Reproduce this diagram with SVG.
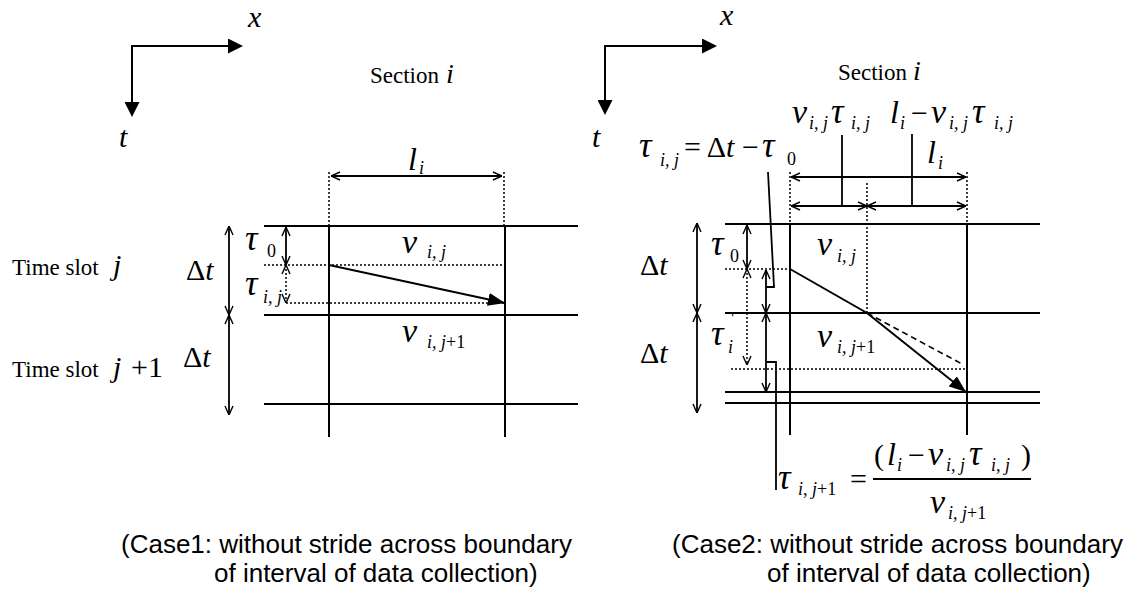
<svg xmlns="http://www.w3.org/2000/svg" width="1142" height="590" viewBox="0 0 1142 590">
<style>
.g{stroke:#000;stroke-width:2;fill:none}
.a{stroke:#000;stroke-width:1.8;fill:none}
.d{stroke:#000;stroke-width:1.5;fill:none;stroke-dasharray:2 2}
.da{stroke:#000;stroke-width:1.6;fill:none;stroke-dasharray:6 4}
text{font-family:"Liberation Serif","Times New Roman",serif;fill:#000}
.m{font-style:italic;font-size:30px}
.v{font-style:italic;font-size:34px}
.tau{font-style:italic;font-size:35px}
.s{font-style:italic;font-size:18px}
.u{font-style:normal}
.r{font-size:23px}
.cap{font-family:"Liberation Sans",Arial,sans-serif;font-size:26px}
</style>
<defs>
<marker id="o" viewBox="0 0 10 10" refX="10" refY="5" markerWidth="10" markerHeight="10" markerUnits="userSpaceOnUse" orient="auto-start-reverse">
<path d="M1,1 L10,5 L1,9" fill="none" stroke="#000" stroke-width="1.4"/>
</marker>
<marker id="f" viewBox="0 0 15 15" refX="15" refY="7.5" markerWidth="15" markerHeight="15" markerUnits="userSpaceOnUse" orient="auto">
<path d="M0,0 L15,7.5 L0,15 z" fill="#000"/>
</marker>
<marker id="h" viewBox="0 0 17 13" refX="17" refY="6.5" markerWidth="17" markerHeight="13" markerUnits="userSpaceOnUse" orient="auto">
<path d="M0,0 L17,6.5 L0,13 z" fill="#000"/>
</marker>
</defs>

<g id="case1">
<g id="axes1">
<path class="g" d="M132,103 L132,46 L229,46"/>
<line x1="132" y1="46" x2="243" y2="46" stroke="none" marker-end="url(#f)"/>
<line x1="132" y1="46" x2="132" y2="117" stroke="none" marker-end="url(#f)"/>
<text class="m" x="248" y="27">x</text>
<text class="m" x="119" y="147">t</text>
</g>
<g id="section1">
<text class="r" x="370" y="83">Section</text>
<text class="m" x="446" y="83" style="font-size:28px">i</text>
<text class="m" x="408" y="170" style="font-size:32px">l</text><text class="s" x="419" y="174">i</text>
</g>
<g id="grid1">
<line class="g" x1="264" y1="226" x2="578" y2="226"/>
<line class="g" x1="264" y1="315" x2="578" y2="315"/>
<line class="g" x1="264" y1="404" x2="578" y2="404"/>
<line class="g" x1="329" y1="226" x2="329" y2="437"/>
<line class="g" x1="505" y1="226" x2="505" y2="437"/>
</g>
<g id="labels1">
<text class="r" x="12" y="275">Time slot</text>
<text class="m" x="113" y="275">j</text>
<text class="r" x="12" y="377">Time slot</text>
<text class="m" x="113" y="377">j</text>
<text class="m u" x="131" y="377">+1</text>
<text class="m u" x="186" y="280">Δ<tspan style="font-style:italic">t</tspan></text>
<text class="m u" x="183" y="367">Δ<tspan style="font-style:italic">t</tspan></text>
<text class="tau" x="245" y="250">τ</text><text class="s u" x="267" y="257">0</text>
<text class="tau" x="245" y="295">τ</text><text class="s" x="263" y="303">i, j</text>
<text class="v" x="402" y="253">v</text><text class="s" x="427" y="258">i, j</text>
<text class="v" x="402" y="342">v</text><text class="s" x="427" y="348">i, j<tspan class="u">+1</tspan></text>
</g>
</g>

<g id="case2">
<g id="axes2">
<path class="g" d="M605,101 L605,46 L703,46"/>
<line x1="605" y1="46" x2="717" y2="46" stroke="none" marker-end="url(#f)"/>
<line x1="605" y1="46" x2="605" y2="115" stroke="none" marker-end="url(#f)"/>
<text class="m" x="720" y="25">x</text>
<text class="m" x="592" y="147">t</text>
</g>
<g id="section2">
<text class="r" x="838" y="80">Section</text>
<text class="m" x="913" y="80" style="font-size:28px">i</text>
<text class="v" x="792" y="123">v</text><text class="s" x="809" y="129">i, j</text>
<text class="tau" x="831" y="123">τ</text><text class="s" x="851" y="129">i, j</text>
<text class="m" x="890" y="123" style="font-size:32px">l</text><text class="s" x="900" y="129">i</text>
<text class="m u" x="911" y="123">−</text>
<text class="v" x="931" y="123">v</text><text class="s" x="949" y="129">i, j</text>
<text class="tau" x="972" y="123">τ</text><text class="s" x="994" y="129">i, j</text>
<text class="m" x="927" y="163" style="font-size:32px">l</text><text class="s" x="938" y="169">i</text>
</g>
<g id="tauij">
<text class="tau" x="639" y="157">τ</text><text class="s" x="660" y="166">i, j</text>
<text class="m u" x="684" y="157">= Δ<tspan style="font-style:italic">t</tspan> −</text>
<text class="tau" x="762" y="157">τ</text><text class="s u" x="787" y="165">0</text>
</g>
<g id="grid2">
<line class="g" x1="725" y1="224" x2="1040" y2="224"/>
<line class="g" x1="725" y1="313" x2="1040" y2="313"/>
<line class="g" x1="725" y1="392" x2="1040" y2="392"/>
<line class="g" x1="725" y1="403" x2="1040" y2="403"/>
<line class="g" x1="790" y1="224" x2="790" y2="435"/>
<line class="g" x1="967" y1="224" x2="967" y2="435"/>
</g>
<g id="labels2">
<text class="m u" x="640" y="275">Δ<tspan style="font-style:italic">t</tspan></text>
<text class="m u" x="640" y="363">Δ<tspan style="font-style:italic">t</tspan></text>
<text class="tau" x="711" y="255">τ</text><text class="s u" x="730" y="262">0</text>
<text class="tau" x="711" y="345">τ</text><text class="s u" x="731" y="325">'</text><text class="s" x="728" y="353">i</text>
<text class="v" x="817" y="255">v</text><text class="s" x="837" y="262">i, j</text>
<text class="v" x="817" y="347">v</text><text class="s" x="837" y="353">i, j<tspan class="u">+1</tspan></text>
</g>
<g id="formula">
<text class="tau" x="778" y="489">τ</text><text class="s" x="798" y="495">i, j<tspan class="u">+1</tspan></text>
<text class="m u" x="850" y="489">=</text>
<line class="g" x1="873" y1="479" x2="1031" y2="479" stroke-width="1.5"/>
<text class="m u" x="874" y="465">(</text>
<text class="m" x="887" y="465" style="font-size:32px">l</text><text class="s" x="897" y="471">i</text>
<text class="m u" x="908" y="465">−</text>
<text class="v" x="928" y="465">v</text><text class="s" x="946" y="471">i, j</text>
<text class="tau" x="969" y="465">τ</text><text class="s" x="991" y="471">i, j</text>
<text class="m u" x="1021" y="465">)</text>
<text class="v" x="930" y="513">v</text><text class="s" x="948" y="519">i, j<tspan class="u">+1</tspan></text>
</g>
</g>

<g id="connectors">
<line class="d" x1="329" y1="172" x2="329" y2="226"/>
<line class="d" x1="504" y1="172" x2="504" y2="226"/>
<line class="a" x1="331" y1="176" x2="502" y2="176" marker-start="url(#o)" marker-end="url(#o)"/>
<line class="d" x1="264" y1="265" x2="505" y2="265"/>
<line class="d" x1="286" y1="303" x2="505" y2="303"/>
<line class="g" x1="329" y1="265" x2="505" y2="303" marker-end="url(#h)"/>
<line class="a" x1="286" y1="227" x2="286" y2="265" marker-start="url(#o)" marker-end="url(#o)"/>
<line class="d" x1="286" y1="265" x2="286" y2="303" marker-start="url(#o)" marker-end="url(#o)"/>
<line class="a" x1="229" y1="226" x2="229" y2="315" marker-start="url(#o)" marker-end="url(#o)"/>
<line class="a" x1="229" y1="315" x2="229" y2="415" marker-start="url(#o)" marker-end="url(#o)"/>
<line class="d" x1="790" y1="172" x2="790" y2="224"/>
<line class="d" x1="967" y1="172" x2="967" y2="224"/>
<line class="d" x1="867" y1="183" x2="867" y2="313"/>
<line class="a" x1="791" y1="177" x2="966" y2="177" marker-start="url(#o)" marker-end="url(#o)"/>
<line class="a" x1="791" y1="206" x2="867" y2="206" marker-start="url(#o)" marker-end="url(#o)"/>
<line class="a" x1="867" y1="206" x2="966" y2="206" marker-start="url(#o)" marker-end="url(#o)"/>
<line class="a" x1="842" y1="135" x2="842" y2="206"/>
<line class="a" x1="912" y1="134" x2="912" y2="206"/>
<line class="d" x1="725" y1="269" x2="790" y2="269"/>
<line class="d" x1="731" y1="369" x2="967" y2="369"/>
<path class="g" d="M790,269 L867,313 L966,392" marker-end="url(#h)"/>
<line class="da" x1="867" y1="313" x2="962" y2="364"/>
<line class="a" x1="747" y1="225" x2="747" y2="269" marker-start="url(#o)" marker-end="url(#o)"/>
<line class="d" x1="747" y1="269" x2="747" y2="365" marker-start="url(#o)" marker-end="url(#o)"/>
<line class="a" x1="766" y1="270" x2="766" y2="313" marker-start="url(#o)" marker-end="url(#o)"/>
<line class="a" x1="766" y1="313" x2="766" y2="392" marker-start="url(#o)" marker-end="url(#o)"/>
<line class="a" x1="697" y1="223" x2="697" y2="313" marker-start="url(#o)" marker-end="url(#o)"/>
<line class="a" x1="697" y1="313" x2="697" y2="413" marker-start="url(#o)" marker-end="url(#o)"/>
<polyline class="a" points="768,172 774,287 766,287"/>
<polyline class="a" points="766,362 776,362 776,490"/>
</g>

<g id="captions">
<text class="cap" x="121" y="553">(Case1: without stride across boundary</text>
<text class="cap" x="214" y="582">of interval of data collection)</text>
<text class="cap" x="672" y="553">(Case2: without stride across boundary</text>
<text class="cap" x="767" y="582">of interval of data collection)</text>
</g>
</svg>
